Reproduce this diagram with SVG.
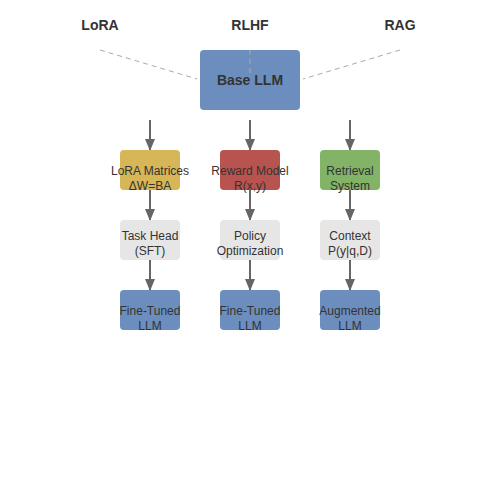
<svg xmlns="http://www.w3.org/2000/svg" width="500" height="500" viewBox="0 0 500 500">
<defs>
<marker id="ah" markerWidth="12" markerHeight="10" refX="11" refY="5" orient="auto" markerUnits="userSpaceOnUse" viewBox="0 0 12 10">
<path d="M0,0 L12,5 L0,10 Z" fill="#666"/>
</marker>
<style>
.title{font-family:"Liberation Sans",Arial,sans-serif;font-size:14px;font-weight:bold;fill:#333;text-anchor:middle}
.lbl{font-family:"Liberation Sans",Arial,sans-serif;font-size:12px;fill:#333;text-anchor:middle}
.big{font-family:"Liberation Sans",Arial,sans-serif;font-size:14px;font-weight:bold;fill:#333;text-anchor:middle}
.arr{stroke:#666;stroke-width:2;fill:none;marker-end:url(#ah)}
.dash{stroke:#aaa;stroke-width:1;stroke-dasharray:5,4;fill:none}
.blue{fill:#6c8ebf}
.gray{fill:#e6e6e6}
</style>
</defs>
<rect width="500" height="500" fill="#fff"/>
<g id="titles">
<text class="title" x="100" y="30">LoRA</text>
<text class="title" x="250" y="30">RLHF</text>
<text class="title" x="400" y="30">RAG</text>
</g>
<g id="base"><rect class="blue" x="200" y="50" width="100" height="60" rx="4"/><text class="big" x="250" y="85">Base LLM</text></g>
<g id="connectors">
<path class="dash" d="M100,50 L197,79"/>
<path class="dash" d="M250,50 L250,75"/>
<path class="dash" d="M400,50 L303,79"/>
<path class="arr" d="M150,120 L150,150"/>
<path class="arr" d="M250,120 L250,150"/>
<path class="arr" d="M350,120 L350,150"/>
<path class="arr" d="M150,190 L150,220"/>
<path class="arr" d="M250,190 L250,220"/>
<path class="arr" d="M350,190 L350,220"/>
<path class="arr" d="M150,260 L150,290"/>
<path class="arr" d="M250,260 L250,290"/>
<path class="arr" d="M350,260 L350,290"/>
</g>
<g id="lora"><rect x="120" y="150" width="60" height="40" rx="4" fill="#d6b656"/><text class="lbl" x="150" y="175">LoRA Matrices</text><text class="lbl" x="150" y="190">ΔW=BA</text></g>
<g id="reward"><rect x="220" y="150" width="60" height="40" rx="4" fill="#b85450"/><text class="lbl" x="250" y="175">Reward Model</text><text class="lbl" x="250" y="190">R(x,y)</text></g>
<g id="retrieval"><rect x="320" y="150" width="60" height="40" rx="4" fill="#82b366"/><text class="lbl" x="350" y="175">Retrieval</text><text class="lbl" x="350" y="190">System</text></g>
<g id="taskhead"><rect class="gray" x="120" y="220" width="60" height="40" rx="4"/><text class="lbl" x="150" y="240">Task Head</text><text class="lbl" x="150" y="255">(SFT)</text></g>
<g id="policy"><rect class="gray" x="220" y="220" width="60" height="40" rx="4"/><text class="lbl" x="250" y="240">Policy</text><text class="lbl" x="250" y="255">Optimization</text></g>
<g id="context"><rect class="gray" x="320" y="220" width="60" height="40" rx="4"/><text class="lbl" x="350" y="240">Context</text><text class="lbl" x="350" y="255">P(y|q,D)</text></g>
<g id="ft1"><rect class="blue" x="120" y="290" width="60" height="40" rx="4"/><text class="lbl" x="150" y="315">Fine-Tuned</text><text class="lbl" x="150" y="330">LLM</text></g>
<g id="ft2"><rect class="blue" x="220" y="290" width="60" height="40" rx="4"/><text class="lbl" x="250" y="315">Fine-Tuned</text><text class="lbl" x="250" y="330">LLM</text></g>
<g id="aug"><rect class="blue" x="320" y="290" width="60" height="40" rx="4"/><text class="lbl" x="350" y="315">Augmented</text><text class="lbl" x="350" y="330">LLM</text></g>
</svg>
